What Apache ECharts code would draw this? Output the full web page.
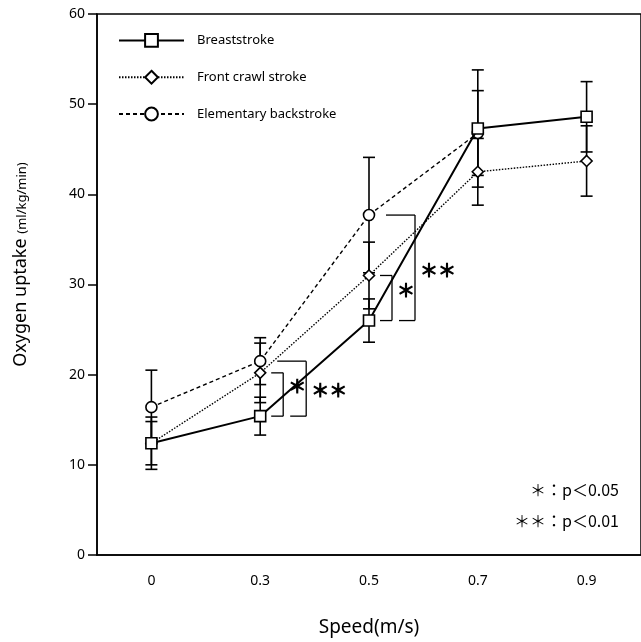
<!DOCTYPE html>
<html>
<head>
<meta charset="utf-8">
<script src="https://cdn.jsdelivr.net/npm/echarts@6/dist/echarts.min.js"></script>
<style>
  html, body { margin: 0; padding: 0; background: #fff; }
  #main { width: 641px; height: 642px; }
</style>
</head>
<body>
<div id="main"></div>
<script>
var speeds = ['0', '0.3', '0.5', '0.7', '0.9'];
var yTicks = [0, 10, 20, 30, 40, 50, 60];

var breastMean = [12.4, 15.4, 26.0, 47.3, 48.6];
var breastSd   = [2.9, 2.1, 2.4, 6.5, 3.9];
var crawlMean  = [12.4, 20.2, 31.0, 42.5, 43.7];
var crawlSd    = [2.4, 3.3, 3.7, 3.7, 3.9];
var backMean   = [16.4, 21.5, 37.7, 46.8, null];
var backSd     = [4.1, 2.6, 6.4, 4.7, null];

// significance brackets: category index, upper value, lower value, mark, inner/outer
var bracketCat   = [1, 1, 2, 2];
var bracketTop   = [crawlMean[1], backMean[1], crawlMean[2], backMean[2]];
var bracketBot   = [breastMean[1], breastMean[1], breastMean[2], breastMean[2]];
var bracketMark  = ['＊', '＊＊', '＊', '＊＊'];
var bracketOuter = [0, 1, 0, 1];

var FONT = 'Noto Sans';

var myChart = echarts.init(document.getElementById('main'));

function errorData(mean, sd) {
  var out = [];
  for (var i = 0; i < mean.length; i++) {
    if (mean[i] == null) continue;
    out.push([i, mean[i] - sd[i], mean[i] + sd[i]]);
  }
  return out;
}

function renderError(params, api) {
  var lo = api.coord([api.value(0), api.value(1)]);
  var hi = api.coord([api.value(0), api.value(2)]);
  var cap = 6;
  var st = { stroke: '#000', lineWidth: 1.6 };
  return {
    type: 'group',
    children: [
      { type: 'line', shape: { x1: lo[0], y1: lo[1], x2: hi[0], y2: hi[1] }, style: st },
      { type: 'line', shape: { x1: lo[0] - cap, y1: lo[1], x2: lo[0] + cap, y2: lo[1] }, style: st },
      { type: 'line', shape: { x1: hi[0] - cap, y1: hi[1], x2: hi[0] + cap, y2: hi[1] }, style: st }
    ]
  };
}

function renderBracket(params, api) {
  var top = api.coord([api.value(0), api.value(1)]);
  var bot = api.coord([api.value(0), api.value(2)]);
  var outer = api.value(3);
  var x0t = top[0] + (outer ? 17 : 11);
  var x0b = top[0] + (outer ? 30 : 11);
  var xv = top[0] + (outer ? 46 : 23);
  var st = { stroke: '#000', lineWidth: 1.3 };
  return {
    type: 'group',
    children: [
      { type: 'line', shape: { x1: x0t, y1: top[1], x2: xv, y2: top[1] }, style: st },
      { type: 'line', shape: { x1: xv, y1: top[1], x2: xv, y2: bot[1] }, style: st },
      { type: 'line', shape: { x1: x0b, y1: bot[1], x2: xv, y2: bot[1] }, style: st },
      {
        type: 'text',
        style: {
          x: xv + 5, y: (top[1] + bot[1]) / 2 - (outer ? -2 : 8),
          text: bracketMark[params.dataIndex],
          fill: '#000', stroke: '#000', lineWidth: 1.1,
          font: '18px "Noto Sans CJK JP"',
          align: 'left', verticalAlign: 'middle'
        }
      }
    ]
  };
}

var bracketData = bracketCat.map(function (c, i) {
  return [c, bracketTop[i], bracketBot[i], bracketOuter[i]];
});

var symStyle = { color: '#fff', borderColor: '#000', borderWidth: 1.6 };

option = {
  animation: false,
  backgroundColor: '#fff',
  textStyle: { fontFamily: FONT },
  grid: {
    left: 97, top: 14, right: -3, bottom: 85,
    show: true, borderColor: '#000', borderWidth: 1.5
  },
  legend: {
    orient: 'vertical',
    left: 113, top: 28,
    itemWidth: 65, itemHeight: 16, itemGap: 22,
    textStyle: { fontFamily: FONT, fontSize: 13, color: '#000', padding: [0, 0, 0, 8] },
    data: ['Breaststroke', 'Front crawl stroke', 'Elementary backstroke']
  },
  xAxis: {
    type: 'category',
    data: speeds,
    boundaryGap: true,
    name: 'Speed(m/s)',
    nameLocation: 'middle',
    nameGap: 63,
    nameTextStyle: { fontFamily: FONT, fontSize: 19, color: '#000' },
    axisLine: { lineStyle: { color: '#000', width: 1.5 } },
    axisTick: { alignWithLabel: true, length: 8, lineStyle: { color: '#000', width: 1.5 } },
    axisLabel: { color: '#000', fontSize: 14, margin: 19 },
    splitLine: { show: false }
  },
  yAxis: {
    type: 'value',
    min: yTicks[0], max: yTicks[yTicks.length - 1], interval: 10,
    name: '{a|Oxygen uptake }{b|(ml/kg/min)}',
    nameLocation: 'middle',
    nameRotate: 90,
    nameGap: 67,
    nameTextStyle: {
      color: '#000',
      padding: [0, 0, 0, 40],
      rich: {
        a: { fontFamily: FONT, fontSize: 18, color: '#000' },
        b: { fontFamily: FONT, fontSize: 13, color: '#000', padding: [3, 0, 0, 0] }
      }
    },
    axisLine: { show: true, lineStyle: { color: '#000', width: 1.5 } },
    axisTick: { show: true, length: 9, lineStyle: { color: '#000', width: 1.5 } },
    axisLabel: { color: '#000', fontSize: 14, margin: 12 },
    splitLine: { show: false }
  },
  graphic: [
    {
      type: 'text', right: 22, top: 482,
      style: { text: '＊：p＜0.05', font: '16px "Noto Sans CJK JP"', fill: '#000' }
    },
    {
      type: 'text', right: 22, top: 513,
      style: { text: '＊＊：p＜0.01', font: '16px "Noto Sans CJK JP"', fill: '#000' }
    }
  ],
  series: [
    { type: 'custom', renderItem: renderError, data: errorData(breastMean, breastSd), z: 1, silent: true },
    { type: 'custom', renderItem: renderError, data: errorData(crawlMean, crawlSd), z: 1, silent: true },
    { type: 'custom', renderItem: renderError, data: errorData(backMean, backSd), z: 1, silent: true },
    { type: 'custom', renderItem: renderBracket, data: bracketData, z: 1, silent: true },
    {
      name: 'Elementary backstroke', type: 'line', data: backMean, z: 3,
      symbol: 'circle', symbolSize: 11, showAllSymbol: true,
      lineStyle: { color: '#000', width: 1.4, type: [4, 3] },
      itemStyle: symStyle
    },
    {
      name: 'Front crawl stroke', type: 'line', data: crawlMean, z: 4,
      symbol: 'diamond', symbolSize: 11, showAllSymbol: true,
      lineStyle: { color: '#000', width: 1.4, type: [1.5, 1.5] },
      itemStyle: symStyle
    },
    {
      name: 'Breaststroke', type: 'line', data: breastMean, z: 5,
      symbol: 'rect', symbolSize: 11, showAllSymbol: true,
      lineStyle: { color: '#000', width: 2 },
      itemStyle: symStyle
    }
  ]
};
myChart.setOption(option);
</script>
</body>
</html>
